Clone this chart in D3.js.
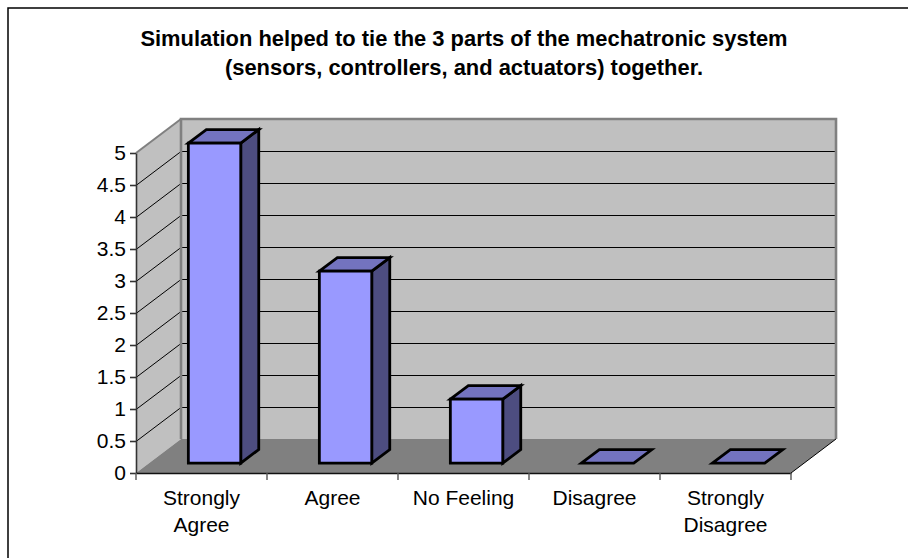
<!DOCTYPE html>
<html>
<head>
<meta charset="utf-8">
<script src="https://cdn.jsdelivr.net/npm/d3@7/dist/d3.min.js"></script>
<style>
html,body{margin:0;padding:0;background:#fff}
svg{display:block}
text{font-family:"Liberation Sans",Arial,sans-serif;fill:#000}
</style>
</head>
<body>
<div id="chart"></div>
<script>
const titleLines = ["Simulation helped to tie the 3 parts of the mechatronic system", "(sensors, controllers, and actuators) together."];
const categories = ["Strongly Agree", "Agree", "No Feeling", "Disagree", "Strongly Disagree"];
const categoryLines = [["Strongly", "Agree"], ["Agree"], ["No Feeling"], ["Disagree"], ["Strongly", "Disagree"]];
const responses = [5, 3, 1, 0, 0];
const yTicks = [0, 0.5, 1, 1.5, 2, 2.5, 3, 3.5, 4, 4.5, 5];

const width = 908, height = 558;
const svg = d3.select("#chart").append("svg").attr("width", width).attr("height", height);

// Oblique projection: the depth axis runs from the front plane (0) to the back wall (1).
const depthX = 45, depthY = -34;
const x = d3.scaleBand().domain(categories).range([136, 791]).paddingInner(0.6).paddingOuter(0.3);
const band = d3.scaleBand().domain(categories).range([136, 791]);
const y = d3.scaleLinear().domain([0, 5]).range([473, 153]);
const project = (px, py, d) => [px + depthX * d, py + depthY * d];
const poly = pts => "M" + pts.map(p => p.join(",")).join("L") + "Z";
const open = pts => "M" + pts.map(p => p.join(",")).join("L");

// Chart frame: only the top and left edges fall inside the page.
svg.append("path").attr("d", `M8,${height}V8H${width}`).attr("fill", "none")
  .attr("stroke", "#000").attr("stroke-width", 1.5);

// Title
svg.append("g").selectAll("text").data(titleLines).join("text")
  .attr("x", 464).attr("y", (d, i) => 46 + i * 29)
  .attr("text-anchor", "middle").attr("font-size", 21.9).attr("font-weight", "bold").text(d => d);

const [xMin, xMax] = band.range();
const [y0, y5] = [y(0), y(5)];

// Wall fills
const backWall = [project(xMin, y0, 1), project(xMin, y5, 1), project(xMax, y5, 1), project(xMax, y0, 1)];
const sideWall = [project(xMin, y0, 0), project(xMin, y0, 1), project(xMin, y5, 1), project(xMin, y5, 0)];
svg.append("path").attr("d", poly(backWall)).attr("fill", "#c0c0c0");
svg.append("path").attr("d", poly(sideWall)).attr("fill", "#c0c0c0");

// Gridlines run along the side wall and across the back wall.
svg.append("g").selectAll("path").data(yTicks.filter(t => t > 0 && t < 5)).join("path")
  .attr("d", t => open([project(xMin, y(t), 0), project(xMin, y(t), 1), project(xMax, y(t), 1)]))
  .attr("transform", "translate(0,0.5)")
  .attr("fill", "none").attr("stroke", "#000").attr("stroke-width", 1);

// Wall outlines sit over the gridlines.
svg.append("path").attr("d", open(backWall)).attr("fill", "none").attr("stroke", "#808080").attr("stroke-width", 2.6);
svg.append("path").attr("d", open([project(xMin, y5, 1), project(xMin, y5, 0)])).attr("fill", "none")
  .attr("stroke", "#808080").attr("stroke-width", 2);

// Floor
svg.append("path")
  .attr("d", poly([project(xMin, y0, 0), project(xMax, y0, 0), project(xMax, y0, 1), project(xMin, y0, 1)]))
  .attr("fill", "#808080");
svg.append("path")
  .attr("d", open([project(xMax, y0, 0), project(xMax, y0, 1)]))
  .attr("stroke", "#000").attr("stroke-width", 1);

// Bars are boxes standing between two depths on the floor.
const front = 0.29, back = 0.69;
const barG = svg.append("g").selectAll("g").data(categories.map((c, i) => ({c, v: responses[i]}))).join("g");
const corners = d => {
  const l = x(d.c), r = l + x.bandwidth(), b = y(0), t = y(d.v);
  return {l, r, b, t};
};
const faceAttrs = s => s.attr("stroke", "#000").attr("stroke-width", 2.8).attr("stroke-linejoin", "miter");
barG.filter(d => d.v > 0).append("path").call(faceAttrs).attr("fill", "#4d4d80")
  .attr("d", d => { const k = corners(d); return poly([project(k.r, k.b, front), project(k.r, k.b, back), project(k.r, k.t, back), project(k.r, k.t, front)]); });
barG.append("path").call(faceAttrs).attr("fill", "#7373bf")
  .attr("d", d => { const k = corners(d); return poly([project(k.l, k.t, front), project(k.r, k.t, front), project(k.r, k.t, back), project(k.l, k.t, back)]); });
barG.filter(d => d.v > 0).append("path").call(faceAttrs).attr("fill", "#9999ff")
  .attr("d", d => { const k = corners(d); return poly([project(k.l, k.t, front), project(k.r, k.t, front), project(k.r, k.b, front), project(k.l, k.b, front)]); });

// Axes
const yAxis = d3.axisLeft(y).tickValues(yTicks).tickSize(6).tickSizeOuter(0).tickPadding(4).tickFormat(d3.format("~g"));
const yG = svg.append("g").attr("transform", `translate(${xMin},0)`).call(yAxis);
yG.selectAll("text").attr("font-size", 21).attr("fill", "#000");
yG.selectAll("line,path").attr("stroke", "#333").attr("stroke-width", 1.6);

const xAxis = d3.axisBottom(band).tickSize(0).tickFormat("");
const xG = svg.append("g").attr("transform", `translate(0,${y0})`).call(xAxis);
xG.select("path").attr("stroke", "#111").attr("stroke-width", 1.6);
xG.selectAll(".tick").remove();
xG.selectAll("line.sep").data(d3.range(categories.length + 1)).join("line").attr("class", "sep")
  .attr("x1", i => xMin + i * band.step()).attr("x2", i => xMin + i * band.step())
  .attr("y1", 0).attr("y2", 7).attr("stroke", "#555").attr("stroke-width", 1.4);

// Category labels
const labels = svg.append("g").selectAll("text").data(categories).join("text")
  .attr("text-anchor", "middle").attr("font-size", 21);
labels.selectAll("tspan").data((d, i) => categoryLines[i].map(t => ({t, d}))).join("tspan")
  .attr("x", d => band(d.d) + band.bandwidth() / 2)
  .attr("y", (d, i) => 505 + i * 27)
  .text(d => d.t);
</script>
</body>
</html>
